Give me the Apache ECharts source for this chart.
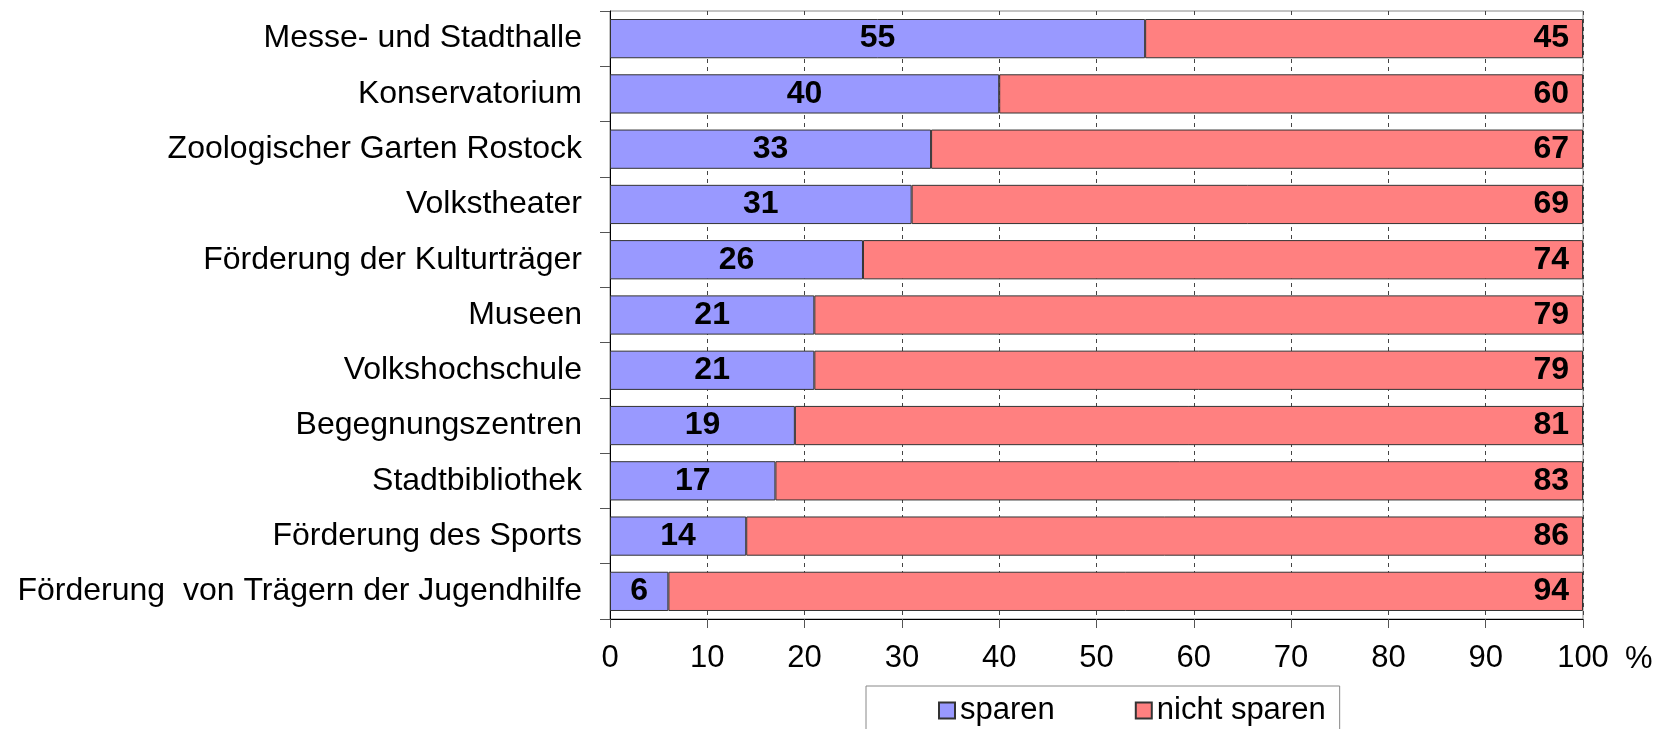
<!DOCTYPE html>
<html>
<head>
<meta charset="utf-8">
<script src="https://cdn.jsdelivr.net/npm/echarts@6/dist/echarts.min.js"></script>
<style>
  html, body { margin: 0; padding: 0; background: #fff; }
  #chart { width: 1662px; height: 729px; }
</style>
</head>
<body>
<div id="chart"></div>
<script>
// Kultureinrichtungen: Anteil "sparen" / "nicht sparen" in Prozent
const categories = [
  'Messe- und Stadthalle',
  'Konservatorium',
  'Zoologischer Garten Rostock',
  'Volkstheater',
  'Förderung der Kulturträger',
  'Museen',
  'Volkshochschule',
  'Begegnungszentren',
  'Stadtbibliothek',
  'Förderung des Sports',
  'Förderung  von Trägern der Jugendhilfe'
];
const sparen      = [55, 40, 33, 31, 26, 21, 21, 19, 17, 14, 6];
const nichtSparen = [45, 60, 67, 69, 74, 79, 79, 81, 83, 86, 94];
const seriesNames = ['sparen', 'nicht sparen'];

const FONT = '"Liberation Sans", Arial, sans-serif';
const FS = 31;

const chart = echarts.init(document.getElementById('chart'), null, { renderer: 'canvas' });

chart.setOption({
  animation: false,
  textStyle: { fontFamily: FONT },
  grid: {
    left: 610, right: 79, top: 11, bottom: 110,
    show: true, borderColor: '#888', borderWidth: 1, backgroundColor: 'transparent'
  },
  legend: {
    data: seriesNames,
    left: 866, top: 686,
    padding: [9, 14, 40, 72],
    borderColor: '#888', borderWidth: 1,
    icon: 'rect', itemWidth: 16, itemHeight: 16, itemGap: 80,
    textStyle: { fontSize: FS, color: '#000', fontFamily: FONT }
  },
  xAxis: {
    type: 'value', min: 0, max: 100, interval: 10,
    name: '%', nameLocation: 'end', nameGap: 42,
    nameTextStyle: { fontSize: FS, color: '#000', verticalAlign: 'top', lineHeight: 30, padding: [25, 0, 0, 0] },
    axisLine: { show: true, lineStyle: { color: '#000', width: 1 } },
    axisTick: { show: true, length: 9, lineStyle: { color: '#555' } },
    axisLabel: { fontSize: FS, color: '#000', margin: 24 },
    splitLine: { show: true, lineStyle: { color: '#444', type: [4, 4], width: 1 } }
  },
  yAxis: {
    type: 'category', data: categories, inverse: true,
    axisLine: { show: true, lineStyle: { color: '#000', width: 1 } },
    axisTick: { show: true, length: 10, lineStyle: { color: '#555' } },
    axisLabel: { fontSize: 32, color: '#000', margin: 28 },
    splitLine: { show: false }
  },
  series: [
    {
      name: seriesNames[0], type: 'bar', stack: 'total', data: sparen,
      barCategoryGap: '29%',
      itemStyle: { color: '#9999FF', borderColor: '#333', borderWidth: 1 },
      label: { show: true, position: 'inside', fontSize: 32, fontWeight: 'bold', color: '#000' }
    },
    {
      name: seriesNames[1], type: 'bar', stack: 'total', data: nichtSparen,
      barCategoryGap: '29%',
      itemStyle: { color: '#FF8080', borderColor: '#333', borderWidth: 1 },
      label: { show: true, position: 'insideRight', distance: 14, fontSize: 32, fontWeight: 'bold', color: '#000' }
    }
  ]
});
</script>
</body>
</html>
